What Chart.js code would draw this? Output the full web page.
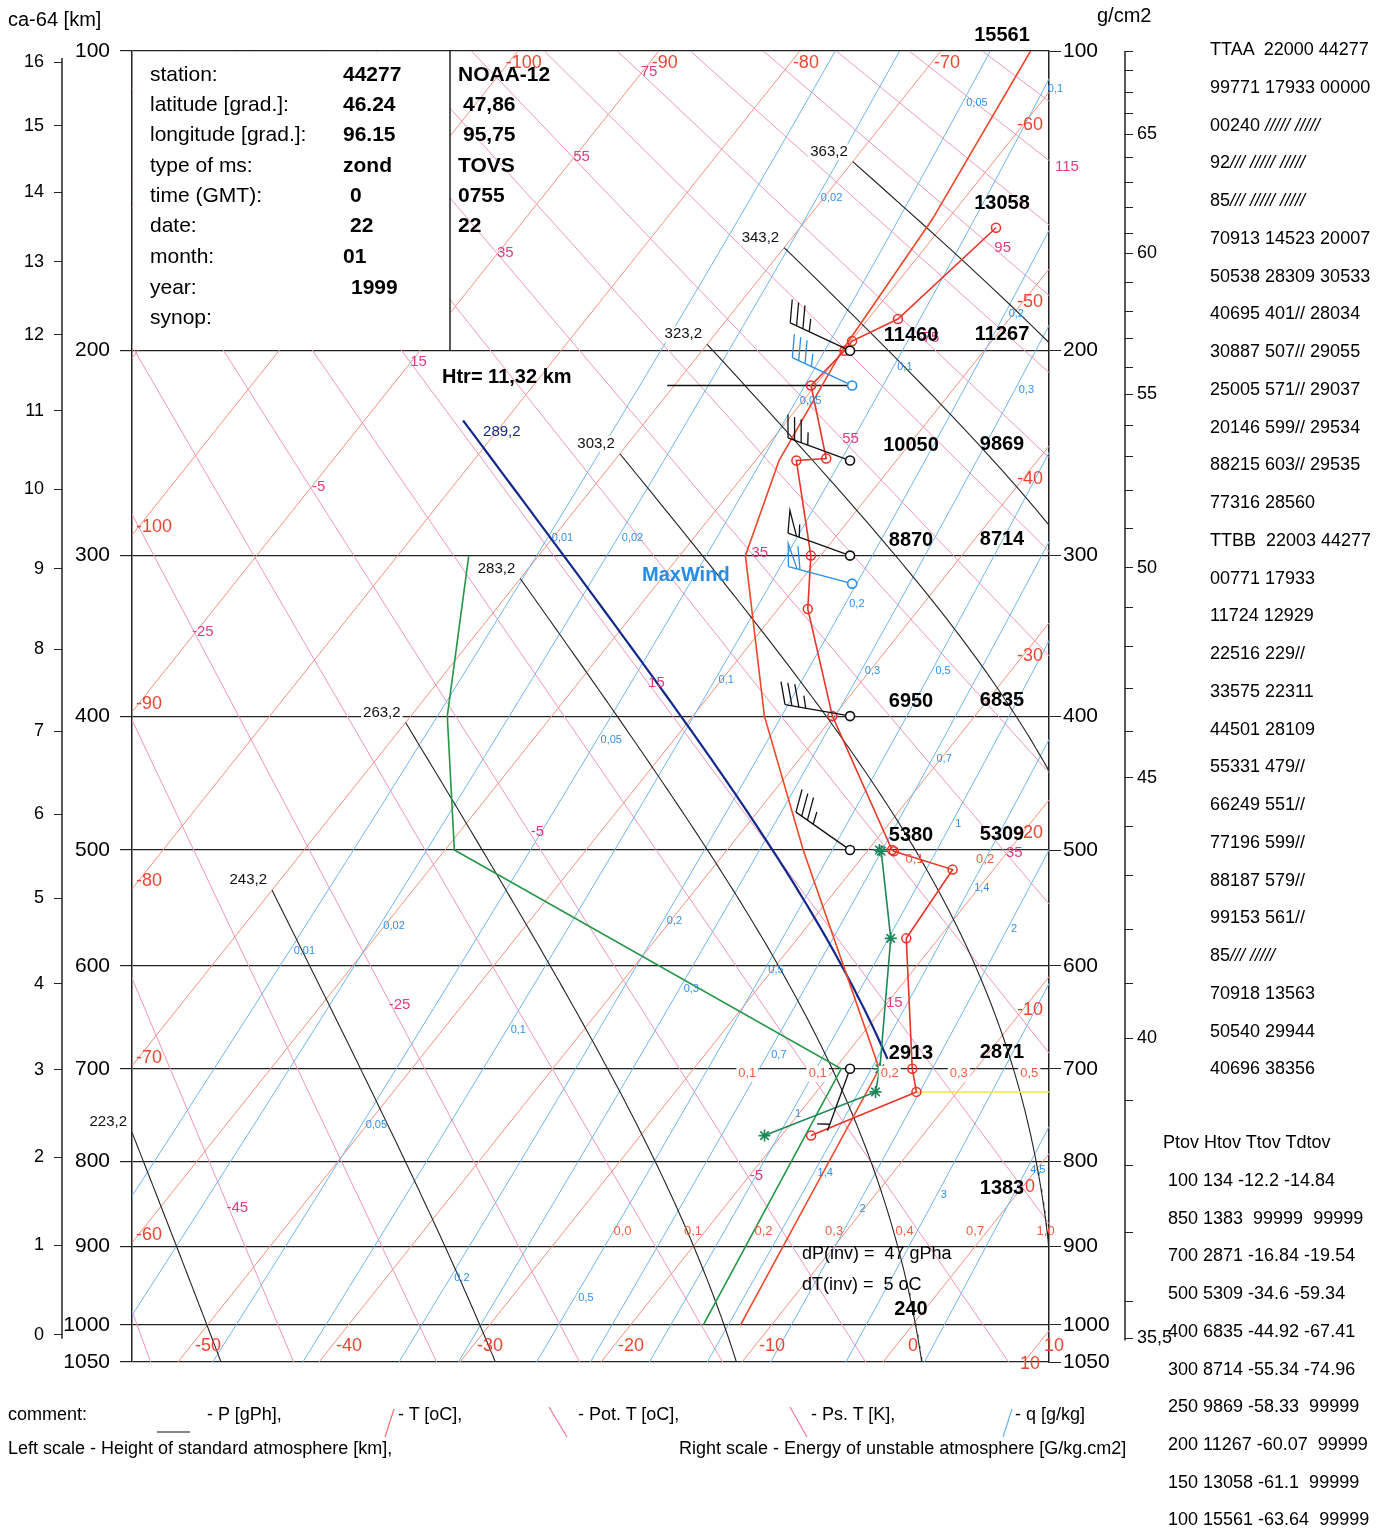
<!DOCTYPE html>
<html>
<head>
<meta charset="utf-8">
<script src="https://cdn.jsdelivr.net/npm/chart.js@4.4.1/dist/chart.umd.min.js"></script>
<style>
  body { margin:0; background:#fff; font-family:"Liberation Sans", Arial, sans-serif; color:#000; }
  #wrap { position:relative; width:1392px; height:1530px; overflow:hidden; }
  #wrap canvas { position:absolute; left:0; top:0; }
  .t { position:absolute; white-space:pre; line-height:1; }
  .b { font-weight:bold; }
  .f21 { font-size:21px; }
  .f20 { font-size:20px; }
  .f18 { font-size:18px; }
  .code { position:absolute; left:1210px; top:31px; font-size:18px; line-height:37.75px; white-space:pre; }
  .tab { position:absolute; font-size:18px; line-height:37.7px; white-space:pre; }
</style>
</head>
<body>
<div id="wrap">
  <canvas id="myChart" width="1392" height="1530"></canvas>

  <div class="t f20" style="left:8px;top:9px">ca-64 [km]</div>
  <div class="t f20" style="left:1097px;top:5px">g/cm2</div>

  <div class="t f21" style="left:150px;top:63px">station:</div>
  <div class="t f21" style="left:150px;top:93px">latitude [grad.]:</div>
  <div class="t f21" style="left:150px;top:123px">longitude [grad.]:</div>
  <div class="t f21" style="left:150px;top:154px">type of ms:</div>
  <div class="t f21" style="left:150px;top:184px">time (GMT):</div>
  <div class="t f21" style="left:150px;top:214px">date:</div>
  <div class="t f21" style="left:150px;top:245px">month:</div>
  <div class="t f21" style="left:150px;top:276px">year:</div>
  <div class="t f21" style="left:150px;top:306px">synop:</div>

  <div class="t f21 b" style="left:343px;top:63px">44277</div>
  <div class="t f21 b" style="left:343px;top:93px">46.24</div>
  <div class="t f21 b" style="left:343px;top:123px">96.15</div>
  <div class="t f21 b" style="left:343px;top:154px">zond</div>
  <div class="t f21 b" style="left:350px;top:184px">0</div>
  <div class="t f21 b" style="left:350px;top:214px">22</div>
  <div class="t f21 b" style="left:343px;top:245px">01</div>
  <div class="t f21 b" style="left:351px;top:276px">1999</div>

  <div class="t f21 b" style="left:458px;top:63px">NOAA-12</div>
  <div class="t f21 b" style="left:463px;top:93px">47,86</div>
  <div class="t f21 b" style="left:463px;top:123px">95,75</div>
  <div class="t f21 b" style="left:458px;top:154px">TOVS</div>
  <div class="t f21 b" style="left:458px;top:184px">0755</div>
  <div class="t f21 b" style="left:458px;top:214px">22</div>

  <div class="t f20 b" style="left:442px;top:366px">Htr= 11,32 km</div>
  <div class="t f20 b" style="left:642px;top:564px;color:rgb(40,140,230)">MaxWind</div>
  <div class="t f18" style="left:802px;top:1244px">dP(inv) =  47 gPha</div>
  <div class="t f18" style="left:802px;top:1275px">dT(inv) =  5 oC</div>

  <div class="code">TTAA  22000 44277
99771 17933 00000
00240 <i>///// /////</i>
92<i>/// ///// /////</i>
85<i>/// ///// /////</i>
70913 14523 20007
50538 28309 30533
40695 401// 28034
30887 507// 29055
25005 571// 29037
20146 599// 29534
88215 603// 29535
77316 28560
TTBB  22003 44277
00771 17933
11724 12929
22516 229//
33575 22311
44501 28109
55331 479//
66249 551//
77196 599//
88187 579//
99153 561//
85<i>/// /////</i>
70918 13563
50540 29944
40696 38356</div>

  <div class="tab" style="left:1163px;top:1124px">Ptov Htov Ttov Tdtov</div>
  <div class="tab" style="left:1168px;top:1162px">100 134 -12.2 -14.84
850 1383  99999  99999
700 2871 -16.84 -19.54
500 5309 -34.6 -59.34
400 6835 -44.92 -67.41
300 8714 -55.34 -74.96
250 9869 -58.33  99999
200 11267 -60.07  99999
150 13058 -61.1  99999
100 15561 -63.64  99999</div>

  <div class="t f18" style="left:8px;top:1405px">comment:</div>
  <div class="t f18" style="left:207px;top:1405px">- P [gPh],</div>
  <div class="t f18" style="left:398px;top:1405px">- T [oC],</div>
  <div class="t f18" style="left:578px;top:1405px">- Pot. T [oC],</div>
  <div class="t f18" style="left:811px;top:1405px">- Ps. T [K],</div>
  <div class="t f18" style="left:1015px;top:1405px">- q [g/kg]</div>
  <div class="t f18" style="left:8px;top:1439px">Left scale - Height of standard atmosphere [km],</div>
  <div class="t f18" style="left:679px;top:1439px">Right scale - Energy of unstable atmosphere [G/kg.cm2]</div>
</div>

<script>
// ---- data ----
const isobars = [100, 200, 300, 400, 500, 600, 700, 800, 900, 1000, 1050];
const kmTicks = [0, 1, 2, 3, 4, 5, 6, 7, 8, 9, 10, 11, 12, 13, 14, 15, 16];
const energyTicks = [69, 68, 67, 66, 65, 64, 63, 62, 61, 60, 59, 58, 57, 56, 55, 54, 53, 52, 51, 50,
                     49, 48, 47, 46, 45, 44, 43, 42, 41, 40, 39, 38, 37, 36, 35.5];
const energyTickP = [100, 105, 111, 117, 123, 130, 138, 146, 155, 162, 173, 184, 195, 207, 219, 233, 248, 265, 285, 307,
                     330, 354, 381, 411, 444, 481, 521, 567, 616, 669, 733, 804, 883, 969, 1018];
const energyMajor = [65, 60, 55, 50, 45, 40, 35.5];

const isotherms = [-120, -110, -100, -90, -80, -70, -60, -50, -40, -30, -20, -10, 0, 10, 20, 30];
const dryAdiabats = [-55, -45, -35, -25, -15, -5, 5, 15, 25, 35, 45, 55, 65, 75, 85, 95, 105, 115, 125];   // Pot. T, oC
const dryAdiabatLabels = [-45, -25, -5, 15, 35, 55, 75, 95, 115];
const adiabatLabelRows = [-90, -55, -20];                              // isotherms the labels sit on
const mixRatios = [0.01, 0.02, 0.05, 0.1, 0.2, 0.3, 0.5, 0.7, 1, 1.4, 2, 3, 4.5];
const mrLabQ = [0.1, 0.05, 0.02, 0.2, 0.1, 0.3, 0.05, 0.01, 0.02, 0.2, 0.3, 0.5, 0.1, 0.05, 0.7, 1, 1.4,
                0.02, 2, 0.01, 0.2, 0.5, 0.3, 0.1, 0.7, 1, 0.05, 4.5, 1.4, 3, 2, 0.2, 0.5];
const mrLabP = [110, 114, 143, 185, 207, 217, 222, 290, 290, 328, 370, 370, 376, 417, 430, 479, 531,
                564, 567, 586, 560, 604, 621, 661, 686, 747, 759, 810, 813, 838, 855, 939, 965];
const pseudoAdiabats = [223.2, 243.2, 263.2, 283.2, 303.2, 323.2, 343.2, 363.2];   // K
const pseudoTopT = -70;
const parcelThetaE = 289.2, parcelTopT = -83, parcelBottomP = 690;

// radiosonde (TTAA / TTBB)
const sondeP = [771, 724, 700, 575, 516, 501, 500, 400, 331, 300, 250, 249, 215, 200, 196, 187, 153];
const sondeT = [-17.9, -12.9, -14.5, -22.3, -22.9, -28.1, -28.3, -40.1, -47.9, -50.7, -57.1, -55.1, -60.3, -59.9, -59.9, -57.9, -56.1];
const sondeTdP = [771, 724, 700, 575, 501, 500];
const sondeTd = [-21.2, -15.8, -16.8, -23.4, -29.0, -29.2];
const sondeHP = [1000, 700, 500, 400, 300, 250, 200];
const sondeH = [240, 2913, 5380, 6950, 8870, 10050, 11460];

// TOVS
const tovP = [1000, 850, 700, 500, 400, 300, 250, 200, 150, 100];
const tovH = [134, 1383, 2871, 5309, 6835, 8714, 9869, 11267, 13058, 15561];
const tovT = [-12.2, null, -16.84, -34.6, -44.92, -55.34, -58.33, -60.07, -61.1, -63.64];
const tovTd = [-14.84, null, -19.54, -59.34, -67.41, -74.96, null, null, null, null];

// winds
const windP = [700, 500, 400, 300, 250, 200];
const windDir = [200, 305, 280, 290, 290, 295];
const windSpd = [7, 33, 34, 55, 37, 34];
const tovWindP = [316, 215];
const tovWindDir = [285, 295];
const tovWindSpd = [60, 35];
const tropP = 215, tropX = [-15.3, -2.2];
const inversionP = 724, inversionT = -12.9;

// small energy numbers along isobars
const enLabP = [500, 500, 700, 700, 700, 700, 700, 900, 900, 900, 900, 900, 900, 900];
const enLabT = [-26.7, -21.7, -26.2, -21.2, -16.1, -11.2, -6.2, -25, -20, -15, -10, -5, 0, 5];
const enLabS = ['0,1', '0,2', '0,1', '0,1', '0,2', '0,3', '0,5', '0,0', '0,1', '0,2', '0,3', '0,4', '0,7', '1,0'];

// ---- diagram geometry ----
const P_EXP = 0.286;
const u = p => Math.pow(p, P_EXP);
const U_TOP = u(100), U_BOT = u(1050), U_1000 = u(1000);
const SKEW = 20.70;
const X_MIN = -53.26, X_MAX = 11.77;
const STN_X = -2.34;
const sk = (t, p) => t + SKEW * (U_BOT - u(p));
const pt = (t, p) => ({ x: sk(t, p), y: u(p) });

function stdP(hkm) {
  const h = hkm * 1000;
  return h <= 11000 ? 1013.25 * Math.pow(1 - 2.25577e-5 * h, 5.25588)
                    : 226.32 * Math.exp(-(h - 11000) / 6341.62);
}
function esat(tc) { return 6.112 * Math.exp(17.62 * tc / (243.12 + tc)); }
function dewFromE(e) { const l = Math.log(e / 6.112); return 243.12 * l / (17.62 - l); }
function thetaE(tk, p) {
  const e = esat(tk - 273.15);
  if (e > 0.2 * p) return 1e9;
  const r = 0.622 * e / (p - e);
  return tk * Math.pow(1000 / p, P_EXP) * Math.exp(2.5e6 * r / (1004 * tk));
}
function tOnThetaE(te, p) {
  let lo = 150, hi = 345;
  for (let i = 0; i < 50; i++) { const m = (lo + hi) / 2; if (thetaE(m, p) > te) hi = m; else lo = m; }
  return (lo + hi) / 2 - 273.15;
}
function pWhere(f, lo, hi) {       // f increasing in p, find f(p)=0
  for (let i = 0; i < 50; i++) { const m = (lo + hi) / 2; if (f(m) > 0) hi = m; else lo = m; }
  return (lo + hi) / 2;
}
function pseudoStart(te, topT) {
  let p0 = tOnThetaE(te, 100) >= topT ? 100 : pWhere(p => tOnThetaE(te, p) - topT, 100, 1050);
  if (sk(tOnThetaE(te, p0), p0) < X_MIN) p0 = pWhere(p => sk(tOnThetaE(te, p), p) - X_MIN, p0, 1050);
  return p0;
}
function pseudoLine(te, pTop, pBot) {
  const pts = [];
  for (let p = pTop; p < pBot; p += 5) pts.push(pt(tOnThetaE(te, p), p));
  pts.push(pt(tOnThetaE(te, pBot), pBot));
  return pts;
}

const line = (label, data, color, width, extra) => Object.assign({
  label, data, showLine: true, borderColor: color, borderWidth: width,
  pointRadius: 0, fill: false, tension: 0
}, extra || {});

const datasets = [];
datasets.push({
  label: 'wind', data: windP.map(p => ({ x: STN_X, y: u(p) })), showLine: false,
  pointRadius: 4.5, pointBorderColor: '#111', pointBackgroundColor: '#fff', pointBorderWidth: 1.6
});
datasets.push({
  label: 'wind tovs', data: tovWindP.map(p => ({ x: STN_X + 0.15, y: u(p) })), showLine: false,
  pointRadius: 4.5, pointBorderColor: 'rgb(40,140,230)', pointBackgroundColor: '#fff', pointBorderWidth: 1.6
});
datasets.push(line('Td sonde', sondeTdP.map((p, i) => pt(sondeTd[i], p)), 'rgb(30,135,90)', 1.6, {
  pointRadius: 6, pointStyle: 'star', pointBorderColor: 'rgb(30,135,90)', pointBorderWidth: 1.6
}));
datasets.push(line('T sonde', sondeP.map((p, i) => pt(sondeT[i], p)), 'rgb(232,52,40)', 1.6, {
  pointRadius: 4.5, pointStyle: 'circle', pointBorderColor: 'rgb(232,52,40)',
  pointBackgroundColor: 'rgba(255,255,255,0)', pointBorderWidth: 1.5
}));
datasets.push(line('T tovs', tovP.map((p, i) => tovT[i] === null ? null : pt(tovT[i], p)).filter(Boolean), 'rgb(240,70,40)', 1.6));
datasets.push(line('Td tovs', tovP.map((p, i) => tovTd[i] === null ? null : pt(tovTd[i], p)).filter(Boolean), 'rgb(35,150,70)', 1.6));
datasets.push(line('tropopause', tropX.map(x => ({ x, y: u(tropP) })), '#111', 1.5));
datasets.push(line('inversion', [pt(inversionT, inversionP), { x: X_MAX, y: u(inversionP) }], 'rgb(245,230,60)', 1.5));
const parcelTop = pWhere(p => tOnThetaE(parcelThetaE, p) - parcelTopT, 100, 1050);
datasets.push(line('parcel', pseudoLine(parcelThetaE, parcelTop, parcelBottomP), 'rgb(20,40,140)', 2.2));

const pseudoStarts = pseudoAdiabats.map(te => pseudoStart(te, pseudoTopT));
pseudoAdiabats.forEach((te, i) => datasets.push(line('ps ' + te, pseudoLine(te, pseudoStarts[i], 1050), 'rgb(35,35,35)', 1.1)));

mixRatios.forEach(q => {
  const pts = [];
  for (let p = 100; p <= 1050; p += 10) pts.push(pt(dewFromE(q * p / (622 + q)), p));
  datasets.push(line('q ' + q, pts, 'rgb(110,180,240)', 1));
});
dryAdiabats.forEach(th => {
  const tk = th + 273.15;
  datasets.push(line('pot ' + th, [100, 1050].map(p => pt(tk * u(p) / U_1000 - 273.15, p)), 'rgb(240,150,185)', 1));
});
isotherms.forEach(t => datasets.push(line('T ' + t, [pt(t, 100), pt(t, 1050)], 'rgb(242,145,125)', 1)));

// ---- annotations drawn through the scales ----
function txt(ctx, s, x, y, font, color, align, bg) {
  ctx.font = font; ctx.textAlign = align || 'center'; ctx.textBaseline = 'middle';
  if (bg) {
    const w = ctx.measureText(s).width;
    const x0 = align === 'left' ? x : align === 'right' ? x - w : x - w / 2;
    ctx.fillStyle = '#fff'; ctx.fillRect(x0 - 2, y - 8, w + 4, 16);
  }
  ctx.fillStyle = color; ctx.fillText(s, x, y);
}
function seg(ctx, x1, y1, x2, y2, color, w) {
  ctx.strokeStyle = color; ctx.lineWidth = w;
  ctx.beginPath(); ctx.moveTo(x1, y1); ctx.lineTo(x2, y2); ctx.stroke();
}
function barb(ctx, x0, y0, dir, spd, color) {
  const r = dir * Math.PI / 180;
  const sx = Math.sin(r), sy = -Math.cos(r);
  const bx = -sy, by = sx;
  const L = 66, F = 22;
  const tx = x0 + sx * L, ty = y0 + sy * L;
  seg(ctx, x0 + sx * 5, y0 + sy * 5, tx, ty, color, 1.3);
  let s = Math.round(spd / 5) * 5, pos = 0;
  ctx.beginPath();
  while (s >= 50) {
    const ax = tx - sx * pos, ay = ty - sy * pos;
    ctx.moveTo(ax, ay); ctx.lineTo(ax + bx * F + sx * 6, ay + by * F + sy * 6); ctx.lineTo(ax - sx * 9, ay - sy * 9);
    pos += 12; s -= 50;
  }
  while (s >= 10) {
    const ax = tx - sx * pos, ay = ty - sy * pos;
    ctx.moveTo(ax, ay); ctx.lineTo(ax + bx * F + sx * 8, ay + by * F + sy * 8);
    pos += 7; s -= 10;
  }
  if (s >= 5) {
    if (pos === 0) pos = 7;
    const ax = tx - sx * pos, ay = ty - sy * pos;
    ctx.moveTo(ax, ay); ctx.lineTo(ax + bx * F * 0.55 + sx * 4, ay + by * F * 0.55 + sy * 4);
  }
  ctx.stroke();
}

const overlay = {
  id: 'overlay',
  afterDraw(chart) {
    const ctx = chart.ctx, a = chart.chartArea, xs = chart.scales.x, ys = chart.scales.y;
    const XU = (t, uu) => xs.getPixelForValue(t + SKEW * (U_BOT - uu));
    const YU = uu => ys.getPixelForValue(uu);
    const PX = (t, p) => XU(t, u(p));
    const PY = p => YU(u(p));
    const boxR = a.left + 318, boxT = PY(100), boxB = PY(200);
    const inBox = (x, y) => x < boxR + 4 && y < boxB + 4;
    ctx.save();

    // axis lines of the side scales (only over their labelled range)
    const km = chart.scales.km, en = chart.scales.en;
    seg(ctx, km.right, PY(stdP(16)) - 4, km.right, PY(stdP(0)) + 4, '#222', 1.5);
    seg(ctx, en.left, PY(energyTickP[0]), en.left, PY(energyTickP[energyTickP.length - 1]) + 2, '#222', 1.5);

    // station box
    ctx.fillStyle = '#fff';
    ctx.fillRect(a.left + 1, boxT + 1, boxR - a.left - 1, boxB - boxT - 2);
    seg(ctx, boxR, boxT, boxR, boxB, '#222', 1.5);

    // isotherm labels on the frame
    const red = 'rgb(236,70,50)', f18 = '18px "Liberation Sans", Arial, sans-serif';
    isotherms.forEach(t => {
      const s = String(t);
      const xt = PX(t, 100);
      if (xt > boxR + 5 && xt < a.right - 10) txt(ctx, s, xt + 6, a.top + 12, f18, red);
      const ul = U_BOT - (X_MIN - t) / SKEW;
      if (ul > U_TOP && ul < U_BOT && YU(ul) > boxB + 10) txt(ctx, s, a.left + 4, YU(ul) - 8, f18, red, 'left');
      const ur = U_BOT - (X_MAX - t) / SKEW;
      if (ur > U_TOP && ur < U_BOT) txt(ctx, s, a.right - 19, YU(ur) + 33, f18, red);
      const xb = PX(t, 1050);
      if (xb > a.left && xb < a.right + 5) txt(ctx, s, xb + 30, a.bottom - 16, f18, red);
    });

    // dry adiabat labels
    const pink = 'rgb(225,60,130)', f15 = '15px "Liberation Sans", Arial, sans-serif';
    dryAdiabatLabels.forEach(th => {
      adiabatLabelRows.forEach(t => {
        const uu = (t + 273.15) * U_1000 / (th + 273.15);
        if (uu < U_TOP + 0.03 || uu > U_BOT - 0.05) return;
        const x = XU(t, uu), y = YU(uu);
        if (x < a.left + 5 || x > a.right + 15 || inBox(x, y)) return;
        txt(ctx, String(th), x + 8, y - 1, f15, pink);
      });
    });

    // mixing ratio labels
    const blue = 'rgb(50,145,230)', f11 = '11px "Liberation Sans", Arial, sans-serif';
    mrLabQ.forEach((q, i) => {
      const p = mrLabP[i];
      const x = PX(dewFromE(q * p / (622 + q)), p);
      txt(ctx, String(q).replace('.', ','), x + 4, PY(p), f11, blue, 'left');
    });

    // energy numbers
    const f13 = '13px "Liberation Sans", Arial, sans-serif';
    enLabP.forEach((p, i) => {
      const dy = p === 900 ? -15 : p === 700 ? 5 : 9;
      txt(ctx, enLabS[i], PX(enLabT[i], p), PY(p) + dy, f13, 'rgb(240,95,60)', 'center', p === 700);
    });

    // pseudo-adiabat labels
    pseudoAdiabats.forEach((te, i) => {
      const p0 = pseudoStarts[i];
      const x = PX(tOnThetaE(te, p0), p0), y = PY(p0);
      txt(ctx, String(te).replace('.', ','), x - 5, y - 10, f15, '#111', 'right', true);
    });
    const pp = parcelTop;
    txt(ctx, String(parcelThetaE).replace('.', ','), PX(tOnThetaE(parcelThetaE, pp), pp) + 20, PY(pp) + 11, f15, 'rgb(20,40,140)', 'left');

    // heights of isobaric surfaces
    const fb = 'bold 20px "Liberation Sans", Arial, sans-serif';
    sondeHP.forEach((p, i) => txt(ctx, String(sondeH[i]), a.right - 138, PY(p) - 15, fb, '#000'));
    tovP.forEach((p, i) => { if (p !== 1000) txt(ctx, String(tovH[i]), a.right - 47, PY(p) - 16, fb, '#000'); });

    // wind barbs
    const sx0 = xs.getPixelForValue(STN_X);
    windP.forEach((p, i) => barb(ctx, sx0, PY(p), windDir[i], windSpd[i], '#111'));
    const sx1 = xs.getPixelForValue(STN_X + 0.15);
    tovWindP.forEach((p, i) => barb(ctx, sx1, PY(p), tovWindDir[i], tovWindSpd[i], 'rgb(40,140,230)'));

    // legend samples
    seg(ctx, 157, 1432, 190, 1432, '#111', 1.2);
    seg(ctx, 385, 1437, 394, 1409, 'rgb(242,110,110)', 1.2);
    seg(ctx, 549, 1407, 567, 1437, 'rgb(240,120,170)', 1.2);
    seg(ctx, 790, 1407, 807, 1437, 'rgb(240,120,170)', 1.2);
    seg(ctx, 1003, 1437, 1012, 1409, 'rgb(110,180,240)', 1.2);
    ctx.restore();
  }
};

Chart.defaults.font.family = '"Liberation Sans", Arial, sans-serif';
Chart.defaults.color = '#000';

const yCommon = { reverse: true, min: U_TOP, max: U_BOT, bounds: 'data' };
new Chart('myChart', {
  type: 'scatter',
  data: { datasets },
  options: {
    responsive: false,
    animation: false,
    events: [],
    layout: { padding: { left: 0, right: 207, top: 51, bottom: 168 } },
    plugins: { legend: { display: false }, tooltip: { enabled: false } },
    scales: {
      x: { type: 'linear', min: X_MIN, max: X_MAX, display: false },
      y: Object.assign({}, yCommon, {
        position: 'left', weight: 0,
        afterBuildTicks: s => { s.ticks = isobars.map(p => ({ value: u(p) })); },
        afterFit: s => { s.width = 70; },
        ticks: { callback: (v, i) => String(isobars[i]), font: { size: 21 }, color: '#000', padding: 10, autoSkip: false },
        grid: { color: '#222', lineWidth: 1.2, tickLength: 12 },
        border: { color: '#222', width: 1.5 }
      }),
      km: Object.assign({}, yCommon, {
        position: 'left', weight: 1,
        afterBuildTicks: s => { s.ticks = kmTicks.map(h => ({ value: u(stdP(h)) })); },
        afterFit: s => { s.width = 62; },
        ticks: { callback: (v, i) => String(kmTicks[i]), font: { size: 18 }, color: '#000', padding: 10, autoSkip: false },
        grid: { drawOnChartArea: false, color: '#222', tickLength: 8 },
        border: { display: false }
      }),
      yr: Object.assign({}, yCommon, {
        position: 'right', weight: 0,
        afterBuildTicks: s => { s.ticks = isobars.map(p => ({ value: u(p) })); },
        afterFit: s => { s.width = 76; },
        ticks: { callback: (v, i) => String(isobars[i]), font: { size: 21 }, color: '#000', padding: 2, autoSkip: false },
        grid: { drawOnChartArea: false, color: '#222', tickLength: 12 },
        border: { color: '#222', width: 1.5 }
      }),
      en: Object.assign({}, yCommon, {
        position: 'right', weight: 1,
        afterBuildTicks: s => { s.ticks = energyTickP.map(p => ({ value: u(p) })); },
        afterFit: s => { s.width = 60; },
        ticks: {
          callback: (v, i) => energyMajor.includes(energyTicks[i]) ? String(energyTicks[i]).replace('.', ',') : '',
          font: { size: 18 }, color: '#000', padding: 4, autoSkip: false
        },
        grid: { drawOnChartArea: false, color: '#222', tickLength: 8 },
        border: { display: false }
      })
    }
  },
  plugins: [overlay]
});
</script>
</body>
</html>
